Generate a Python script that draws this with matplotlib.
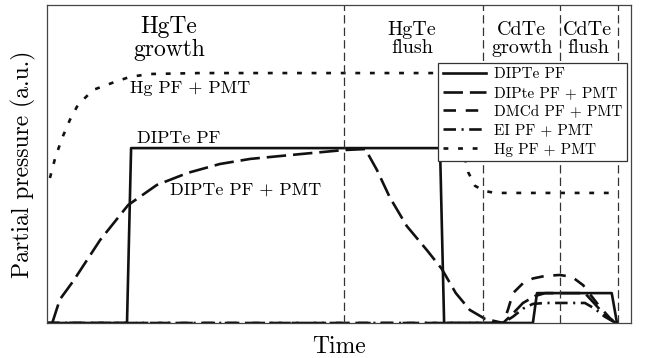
import numpy as np
import matplotlib
matplotlib.use("Agg")
import matplotlib.pyplot as plt

plt.rcParams['font.family'] = ['cmr10', 'DejaVu Serif']
plt.rcParams['lines.scale_dashes'] = False

# time in % of the run, pressure in arbitrary units (0..1 = full axis)
t_dipte_pf = [0.0, 13.7, 14.4, 67.3, 68.0, 83.2, 83.9, 96.7, 97.6]
p_dipte_pf = [0.0, 0.0, 0.55, 0.55, 0.0, 0.0, 0.094, 0.094, 0.0]

t_dipte_pmt = [0.9, 2.2, 4.5, 9.1, 13.9, 18.8, 24.1, 29.6, 34.8, 43.3, 50.9,
               54.5, 56.5, 58.7, 61.6, 65.1, 67.6, 70.0, 72.4,
               75.0, 78.1, 79.8, 81.5, 83.6, 85.3, 92.1, 93.8, 95.5, 97.4]
p_dipte_pmt = [0.0, 0.074, 0.132, 0.261, 0.371, 0.434, 0.472, 0.500, 0.516,
               0.531, 0.544, 0.547, 0.481, 0.395, 0.305, 0.228,
               0.170, 0.094, 0.041, 0.013, 0.0, 0.03, 0.063, 0.085, 0.094,
               0.094, 0.06, 0.025, 0.0]

t_dmcd = [0.0, 78.1, 78.9, 79.8, 81.5, 83.2, 85.3, 87.8, 89.9, 91.8, 93.0,
          94.7, 96.4, 97.4]
p_dmcd = [0.0, 0.0, 0.04, 0.094, 0.125, 0.14, 0.148, 0.151, 0.145, 0.119,
          0.09, 0.05, 0.015, 0.0]

t_ei = [0.0, 78.1, 79.8, 81.5, 83.2, 85.3, 92.1, 93.8, 95.5, 97.4]
p_ei = [0.0, 0.0, 0.02, 0.045, 0.06, 0.063, 0.063, 0.045, 0.02, 0.0]

t_hg = [0.5, 1.4, 2.6, 3.9, 5.3, 7.9, 11.6, 14.2, 17.6, 26.2, 67.3, 68.5,
        69.3, 70.7, 72.1, 73.3, 75.0, 76.7, 97.4]
p_hg = [0.456, 0.519, 0.582, 0.638, 0.686, 0.733, 0.758, 0.774, 0.783, 0.786,
        0.786, 0.770, 0.726, 0.591, 0.475, 0.431, 0.415, 0.409, 0.409]

phase_edges = [50.9, 74.7, 87.8, 97.8]
phase_labels = ["HgTe\nflush", "CdTe\ngrowth", "CdTe\nflush"]
phase_centers = [62.5, 81.3, 92.6]

fig = plt.figure(figsize=(6.59, 3.58), dpi=100)
ax = fig.add_axes([47 / 659, 35 / 358, 584 / 659, 318 / 358])

ink = '#111111'
ax.plot(t_dipte_pf, p_dipte_pf, color=ink, lw=1.9, label='DIPTe PF')
ax.plot(t_dipte_pmt, p_dipte_pmt, color=ink, lw=1.9, dashes=(14, 5),
        label='DIPte PF + PMT')
ax.plot(t_dmcd, p_dmcd, color=ink, lw=1.9, dashes=(9, 7),
        label='DMCd PF + PMT')
ax.plot(t_ei, p_ei, color=ink, lw=1.9, dashes=(9, 4, 1.5, 4),
        label='EI PF + PMT')
ax.plot(t_hg, p_hg, color=ink, lw=1.9, dashes=(3.5, 7), label='Hg PF + PMT')

for x in phase_edges:
    ax.axvline(x, color='#333333', lw=0.9, dashes=(6, 3))

ax.text(20.9, 0.895, "HgTe\ngrowth", fontsize=17, ha='center', va='center',
        linespacing=1.0)
for x, s in zip(phase_centers, phase_labels):
    ax.text(x, 0.893, s, fontsize=14.5, ha='center', va='center',
            linespacing=0.95)

ax.text(14.2, 0.739, "Hg PF + PMT", fontsize=13, va='center')
ax.text(15.4, 0.582, "DIPTe PF", fontsize=13, va='center')
ax.text(21.1, 0.418, "DIPTe PF + PMT", fontsize=13, va='center')

ax.set_xlim(0, 100)
ax.set_ylim(0, 1.0)
ax.set_xticks([])
ax.set_yticks([])
for sp in ax.spines.values():
    sp.set_color('#444444')
    sp.set_linewidth(0.9)

ax.set_xlabel("Time", fontsize=17, labelpad=9)
ax.set_ylabel("Partial pressure (a.u.)", fontsize=17, labelpad=8)

leg = ax.legend(loc='upper right', bbox_to_anchor=(0.993, 0.818),
                borderaxespad=0, fontsize=11, handlelength=2.8,
                fancybox=False, framealpha=1, edgecolor='#333333',
                labelspacing=0.33, borderpad=0.3, handletextpad=0.55)
leg.get_frame().set_linewidth(0.9)

fig.savefig('out.png', dpi=100)
